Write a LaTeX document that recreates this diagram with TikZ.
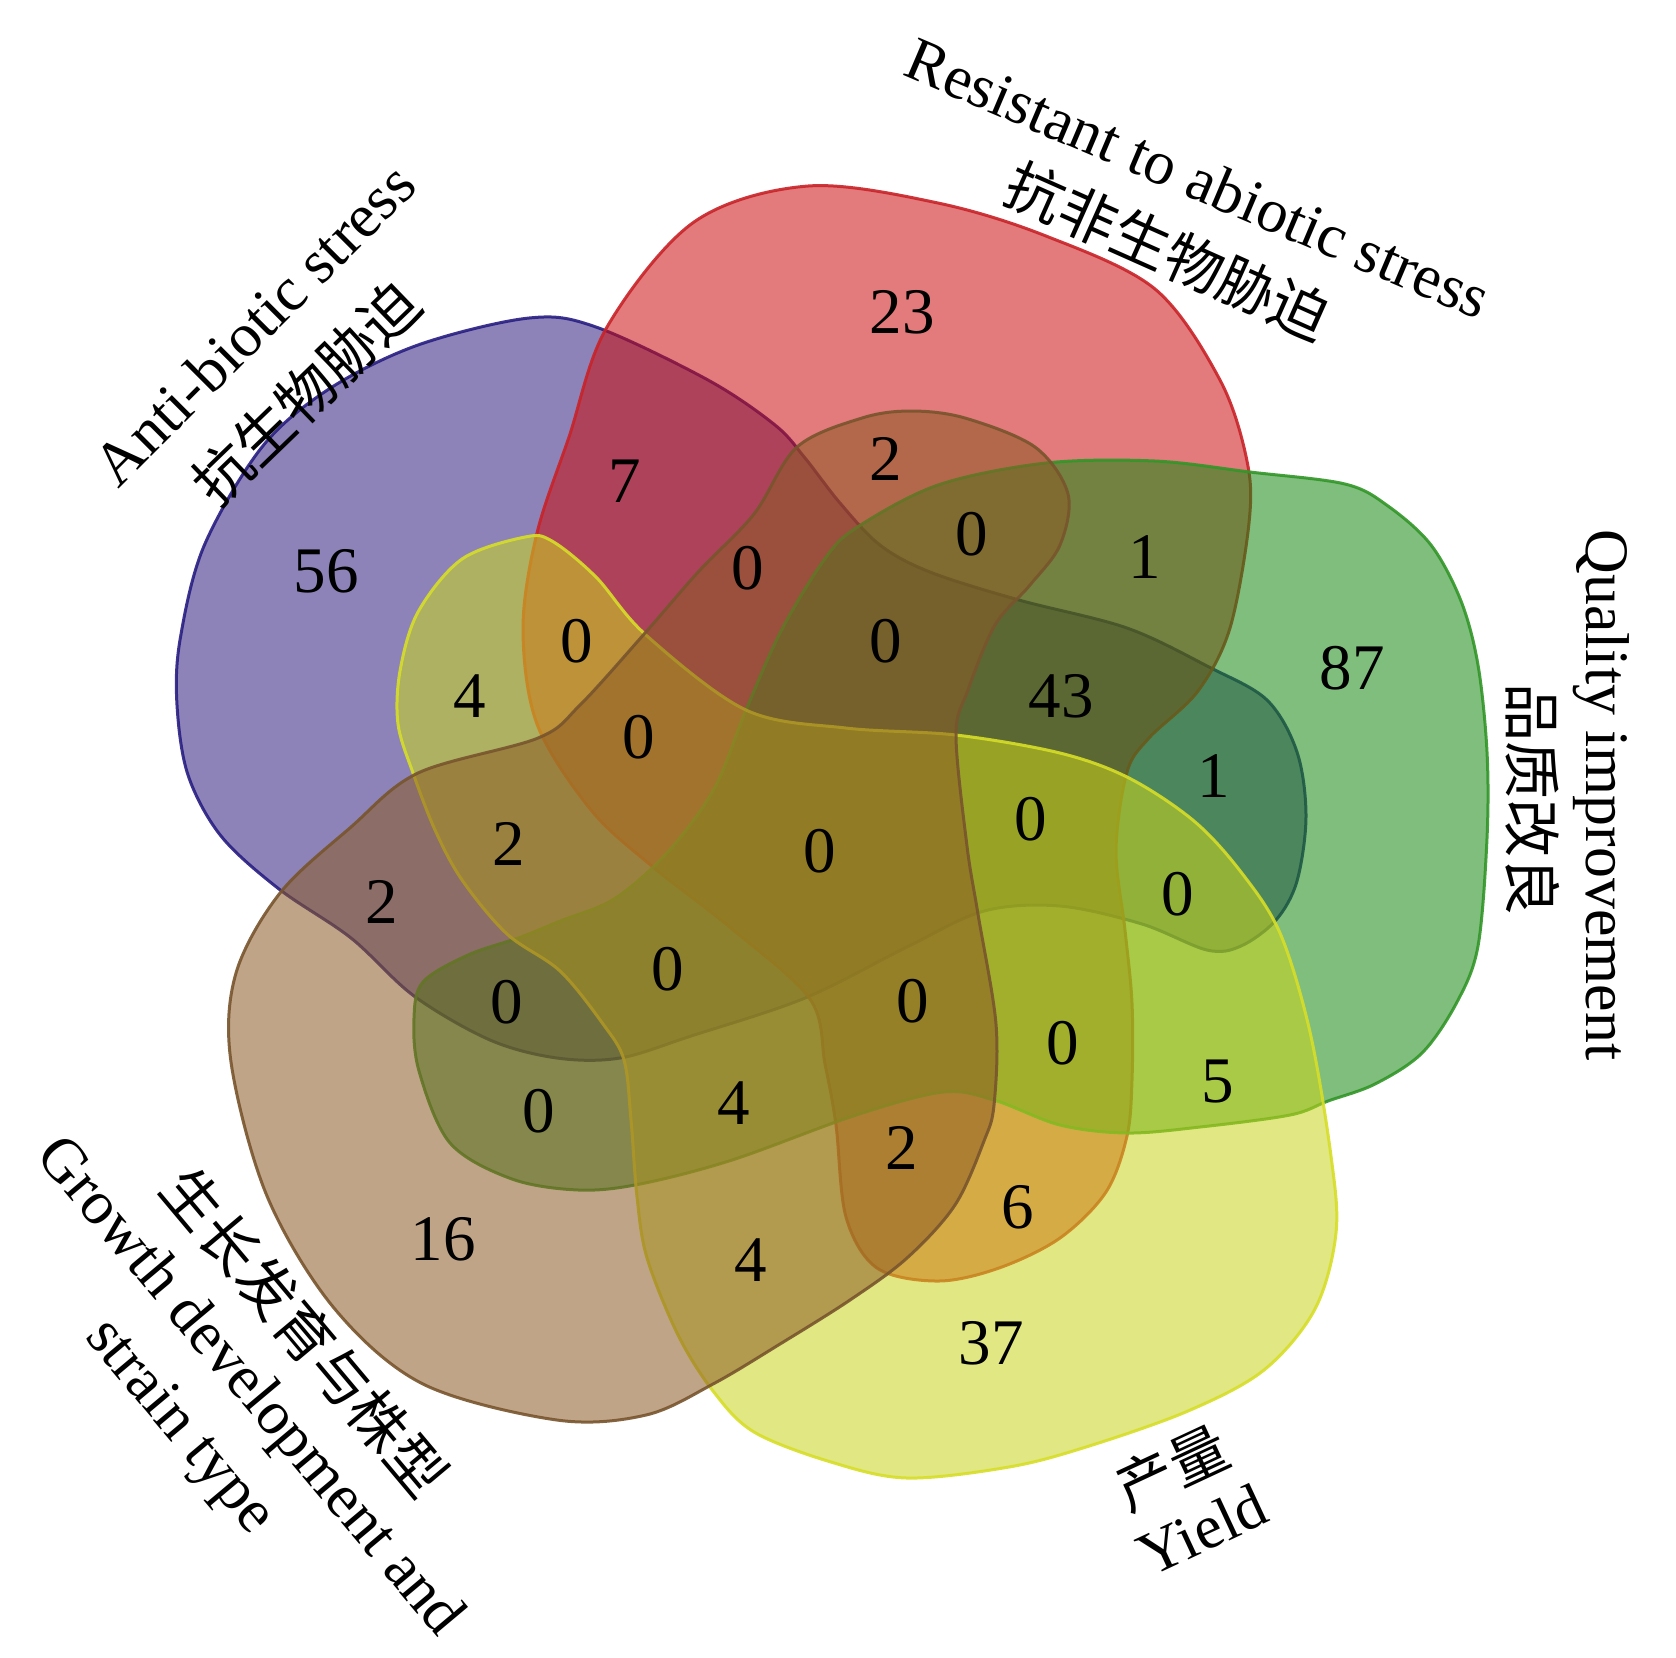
\documentclass[tikz,border=0pt]{standalone}
\usepackage{fontspec}
\setmainfont{Liberation Serif}
\newfontfamily\cjk{Noto Sans CJK SC}
\definecolor{cblue}{RGB}{48,30,126}
\definecolor{cred}{RGB}{204,13,16}
\definecolor{cgreen}{RGB}{24,137,19}
\definecolor{cyellow}{RGB}{202,213,28}
\definecolor{cbrown}{RGB}{140,91,37}
\definecolor{lblue}{RGB}{40,30,130}
\definecolor{lred}{RGB}{200,35,40}
\definecolor{lgreen}{RGB}{50,150,40}
\definecolor{lyellow}{RGB}{215,222,40}
\definecolor{lbrown}{RGB}{120,85,45}
\tikzset{
  setshape/.style={line width=0.3mm, fill opacity=0.55, draw opacity=0.9},
  num/.style={font=\fontsize{18.5}{20}\selectfont, inner sep=0pt, text=black},
  lab/.style={font=\fontsize{17.6}{20}\selectfont, inner sep=0pt, text=black},
  clab/.style={font=\cjk\fontsize{16.5}{20}\selectfont, inner sep=0pt, text=black},
}
\begin{document}
\begin{tikzpicture}[x=0.1mm, y=-0.1mm]
\useasboundingbox (0,0) rectangle (1676,1657);
\fill[white] (0,0) rectangle (1676,1657);
% Anti-biotic stress (blue)
\draw[setshape, draw=lblue, fill=cblue] plot[smooth cycle, tension=0.55] coordinates {
(529,318) (596,327) (708,380) (775,425) (805,458) (840,503) (880,545) (930,572) (1019,600) (1127,628) (1209,667) (1267,700) (1297,752) (1306,816) (1297,881) (1276,920) (1241,946) (1207,950) (1142,924) (1060,906) (984,911) (907,947) (805,998) (691,1036) (620,1058) (557,1058) (490,1040) (414,996) (351,938) (279,889) (221,836) (188,775) (177,705) (180,640) (204,546) (262,447) (329,389) (418,345)};
% Resistant to abiotic stress (red)
\draw[setshape, draw=lred, fill=cred] plot[smooth cycle, tension=0.55] coordinates {
(808,186) (938,203) (1046,236) (1155,289) (1220,380) (1247,461) (1249,523) (1230,628) (1198,691) (1149,738) (1127,772) (1116,850) (1125,930) (1132,1003) (1132,1080) (1127,1136) (1106,1192) (1060,1238) (999,1268) (938,1281) (877,1268) (846,1217) (836,1125) (825,1064) (810,999) (731,928) (653,867) (591,810) (537,724) (523,628) (537,533) (569,437) (607,327) (694,222)};
% Quality improvement (green)
\draw[setshape, draw=lgreen, fill=cgreen] plot[smooth cycle, tension=0.55] coordinates {
(856,528) (938,485) (1046,463) (1155,461) (1250,472) (1345,484) (1388,506) (1431,545) (1461,601) (1478,665) (1487,752) (1487,838) (1478,946) (1457,1002) (1422,1053) (1375,1084) (1328,1101) (1290,1115) (1200,1127) (1127,1133) (1060,1125) (994,1100) (943,1092) (856,1115) (732,1160) (640,1184) (579,1190) (512,1179) (450,1143) (419,1071) (414,1018) (423,982) (468,955) (521,937) (560,921) (614,899) (667,853) (714,789) (746,710) (781,631) (824,560)};
% Yield (yellow)
\draw[setshape, draw=lyellow, fill=cyellow] plot[smooth cycle, tension=0.55] coordinates {
(525,537) (552,541) (596,577) (646,635) (746,710) (846,728) (956,735) (1060,753) (1129,778) (1194,821) (1241,872) (1280,933) (1310,1032) (1331,1156) (1336,1233) (1315,1309) (1264,1370) (1188,1411) (1086,1447) (1009,1467) (907,1478) (831,1462) (754,1432) (713,1391) (678,1335) (647,1258) (637,1197) (631,1120) (624,1060) (603,1024) (560,971) (507,934) (462,880) (435,830) (413,773) (398,724) (400,671) (418,612) (462,559)};
% Growth development and strain type (brown)
\draw[setshape, draw=lbrown, fill=cbrown] plot[smooth cycle, tension=0.55] coordinates {
(862,418) (911,411) (965,418) (1035,447) (1068,494) (1060,545) (1030,585) (995,625) (968,690) (956,735) (967,846) (978,914) (996,1024) (994,1105) (984,1141) (955,1205) (907,1258) (850,1300) (780,1344) (713,1384) (646,1415) (557,1420) (423,1384) (334,1308) (267,1196) (231,1062) (236,973) (280,893) (351,827) (418,773) (538,738) (580,705) (645,633) (699,571) (754,514) (797,447)};
% region counts
\node[num] (n56) at (326,571) {56};
\node[num] (n7) at (625,481) {7};
\node[num] (n23) at (902,312) {23};
\node[num] (n2a) at (886,459) {2};
\node[num] (n0a) at (748,568) {0};
\node[num] (n0b) at (972,534) {0};
\node[num] (n1a) at (1145,557) {1};
\node[num] (n0c) at (577,641) {0};
\node[num] (n4a) at (470,696) {4};
\node[num] (n0d) at (886,641) {0};
\node[num] (n43) at (1061,696) {43};
\node[num] (n87) at (1352,668) {87};
\node[num] (n0e) at (639,737) {0};
\node[num] (n1b) at (1214,776) {1};
\node[num] (n2b) at (509,844) {2};
\node[num] (n0f) at (820,851) {0};
\node[num] (n0g) at (1031,819) {0};
\node[num] (n2c) at (382,902) {2};
\node[num] (n0h) at (1178,894) {0};
\node[num] (n0i) at (668,969) {0};
\node[num] (n0j) at (507,1002) {0};
\node[num] (n0k) at (913,1001) {0};
\node[num] (n0l) at (1063,1043) {0};
\node[num] (n5) at (1218,1081) {5};
\node[num] (n0m) at (539,1111) {0};
\node[num] (n4b) at (734,1103) {4};
\node[num] (n2d) at (902,1148) {2};
\node[num] (n6) at (1018,1207) {6};
\node[num] (n16) at (443,1239) {16};
\node[num] (n4c) at (751,1260) {4};
\node[num] (n37) at (991,1343) {37};
% set labels
\node[lab, rotate=-23] (tRed) at (1198,178) {Resistant to abiotic stress};
\node[clab, rotate=-24] (cRed) at (1168,251) {抗非生物胁迫};
\node[lab, rotate=45] (tBlue) at (254,324) {Anti-biotic stress};
\node[clab, rotate=44] (cBlue) at (306,393) {抗生物胁迫};
\node[lab, rotate=-90] (tGreen) at (1601,795) {Quality improvement};
\node[clab, rotate=-90] (cGreen) at (1533,799) {品质改良};
\node[clab, rotate=25] (cYellow) at (1172,1468) {产量};
\node[lab, rotate=25] (tYellow) at (1202,1530) {Yield};
\node[clab, rotate=-50] (cBrown) at (305,1332) {生长发育与株型};
\node[lab, rotate=-50] (tBrown) at (248,1388) {Growth development and};
\node[lab, rotate=-50] (tBrownb) at (178,1428) {strain type};
\end{tikzpicture}
\end{document}
